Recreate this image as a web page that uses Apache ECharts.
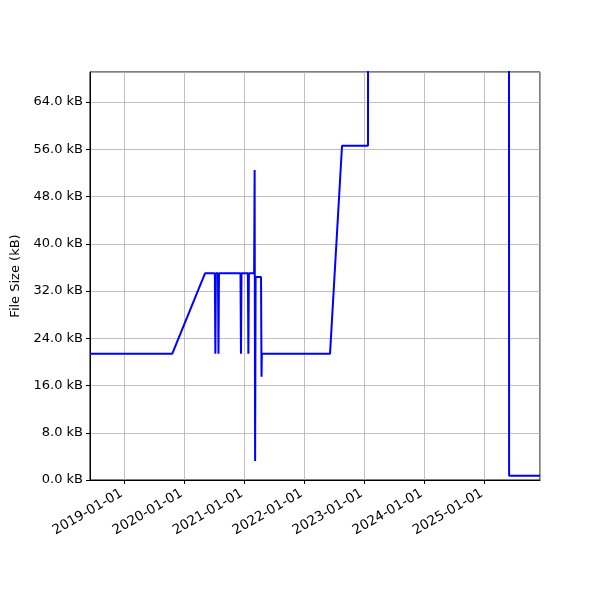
<!DOCTYPE html>
<html>
<head>
<meta charset="utf-8">
<script src="https://cdn.jsdelivr.net/npm/echarts@6/dist/echarts.min.js"></script>
<style>html,body{margin:0;padding:0;background:#fff}#c{width:600px;height:600px}</style>
</head>
<body>
<div id="c"></div>
<script>
// Commit dates and file sizes (kB)
const dates = [
  '2018-06-06','2019-10-20','2020-05-06',
  '2020-07-05','2020-07-08','2020-07-11',
  '2020-07-24','2020-07-27','2020-07-30',
  '2020-12-08','2020-12-11','2020-12-14',
  '2021-01-22','2021-01-25','2021-01-28',
  '2021-03-01','2021-03-04','2021-03-07','2021-03-10',
  '2021-04-12','2021-04-15','2021-04-17',
  '2022-06-06','2022-08-18','2023-01-23','2023-01-24',
  '2025-05-30','2025-05-31','2025-12-05'
];
const sizes = [
  21.4, 21.4, 35.0,
  35.0, 21.4, 35.0,
  35.0, 21.4, 35.0,
  35.0, 21.4, 35.0,
  35.0, 21.4, 35.0,
  35.0, 52.5, 3.2, 34.4,
  34.4, 17.5, 21.4,
  21.4, 56.6, 56.6, 100.0,
  100.0, 0.7, 0.7
];
const xMin = '2018-06-06';
const xMax = '2025-12-05';
const yMax = 69.1;
const yStep = 8;

const chart = echarts.init(document.getElementById('c'), null, {renderer: 'canvas'});
const font = 'DejaVu Sans';
const pad = n => (n < 10 ? '0' : '') + n;
chart.setOption({
  animation: false,
  backgroundColor: '#fff',
  grid: {left: 90, right: 60, top: 72, bottom: 120, show: true, borderColor: '#000', borderWidth: 1, backgroundColor: 'transparent'},
  xAxis: {
    type: 'time',
    min: xMin, max: xMax,
    minInterval: 365 * 864e5, maxInterval: 366 * 864e5,
    axisLine: {lineStyle: {color: '#000', width: 1}},
    axisTick: {show: true, length: 4, lineStyle: {color: '#000'}},
    splitLine: {show: true, lineStyle: {color: '#b0b0b0', width: 0.8}},
    minorTick: {show: false},
    axisLabel: {
      rotate: 30, fontFamily: font, fontSize: 13.5, color: '#000', margin: 11, padding: [0, 3, 0, 0],
      showMinLabel: false, showMaxLabel: false, hideOverlap: false,
      formatter: v => { const d = new Date(v); return d.getFullYear() + '-' + pad(d.getMonth() + 1) + '-' + pad(d.getDate()); }
    }
  },
  yAxis: {
    type: 'value', min: 0, max: yMax, interval: yStep,
    name: 'File Size (kB)', nameLocation: 'middle', nameGap: 66,
    nameTextStyle: {fontFamily: font, fontSize: 13, color: '#000'},
    axisLine: {show: true, lineStyle: {color: '#000', width: 1}},
    axisTick: {show: true, length: 4, lineStyle: {color: '#000'}},
    splitLine: {show: true, lineStyle: {color: '#b0b0b0', width: 0.8}},
    axisLabel: {fontFamily: font, fontSize: 13, color: '#000', margin: 7, showMaxLabel: false,
      formatter: v => v.toFixed(1) + ' kB'}
  },
  series: [{
    type: 'line',
    data: dates.map((d, i) => [d, sizes[i]]),
    showSymbol: false,
    clip: true,
    lineStyle: {color: '#0000ff', width: 2},
    itemStyle: {color: '#0000ff'}
  }]
});
</script>
</body>
</html>
